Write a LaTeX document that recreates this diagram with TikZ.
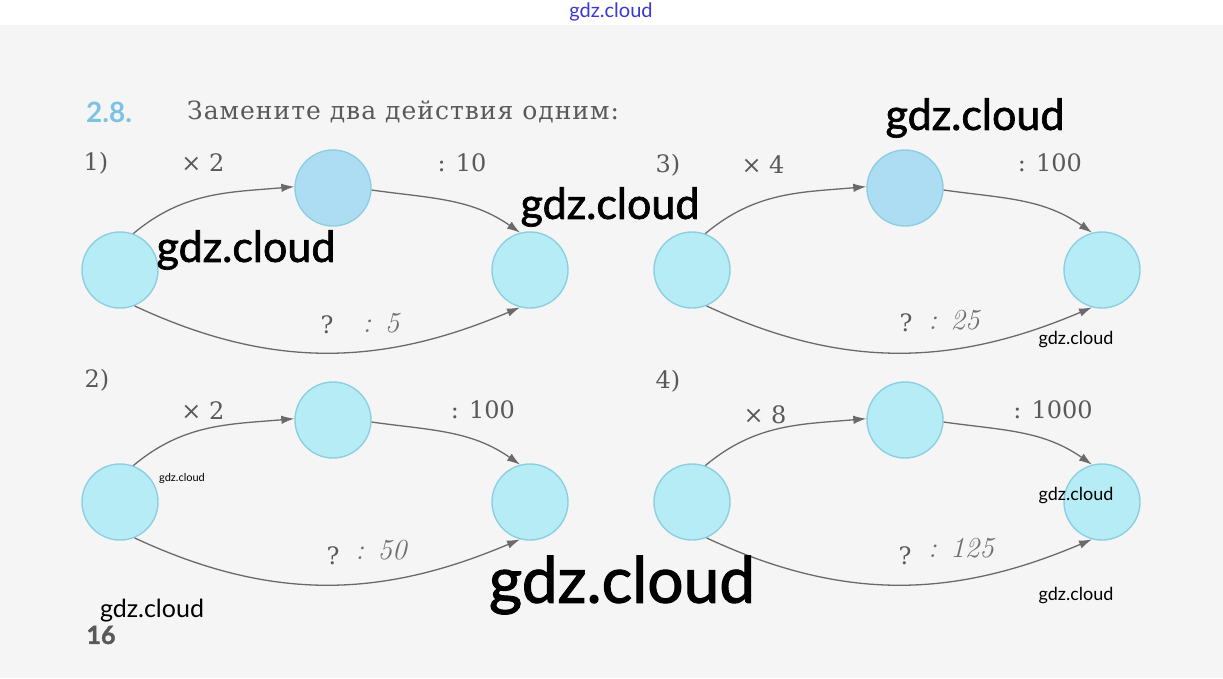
\documentclass[tikz,border=0pt]{standalone}
\usepackage{fontspec}
\usetikzlibrary{arrows.meta}
\newfontfamily\rufont[LetterSpace=4]{DejaVu Serif}
\newfontfamily\labfont{DejaVu Serif}
\newfontfamily\wmfont{Lato}
\newfontfamily\wmheavy[FakeBold=1.6]{Lato}
\definecolor{bggray}{HTML}{F5F5F5}
\definecolor{txtgray}{HTML}{595959}
\definecolor{handgray}{HTML}{707070}
\definecolor{arrowgray}{HTML}{6A6A6A}
\definecolor{ballfill}{HTML}{B6ECF5}
\definecolor{balltop}{HTML}{ADDDF2}
\definecolor{ballrim}{HTML}{8DCFE2}
\definecolor{titleblue}{HTML}{7CC3E3}
\definecolor{headblue}{HTML}{3A3AD0}
\newcommand{\opsarrowstyle}{-{Latex[length=13pt,width=8.5pt]}}

\begin{document}
\begin{tikzpicture}[
    x=1pt, y=-1pt,
    every node/.style={inner sep=0pt},
    numtext/.style={text=txtgray, font=\labfont\fontsize{24}{26}\selectfont},
    handtext/.style={text=handgray, font=\fontsize{29}{31}\selectfont\itshape},
    ballnode/.style={circle, minimum size=76pt, fill=ballfill, draw=ballrim, line width=1.4pt},
    topball/.style={ballnode, fill=balltop},
    opline/.style={\opsarrowstyle, line width=1.3pt, draw=arrowgray},
    wmark/.style={text=black}
]
  \useasboundingbox (0,0) rectangle (1223,678);
  \fill[white] (0,0) rectangle (1223,25);
  \fill[bggray] (0,25) rectangle (1223,678);

  \node[text=headblue, font=\wmfont\fontsize{20}{22}\selectfont] (headmark) at (611,12) {gdz.cloud};

  \node[text=titleblue, font=\wmfont\bfseries\fontsize{28}{30}\selectfont] (tasknum) at (109,112) {2.8.};
  \node[anchor=west, text=txtgray, font=\rufont\fontsize{25}{28}\selectfont] (tasktitle) at (187,112) {Замените два действия одним:};

  % circles and arrows of the four exercises
  \foreach \p/\dx/\dy/\topstyle in {1/0/0/topball, 3/572/0/topball, 2/0/232/ballnode, 4/572/232/ballnode} {
    \node[ballnode] (left-\p) at ({120+\dx},{270+\dy}) {};
    \node[\topstyle] (mid-\p) at ({333+\dx},{188+\dy}) {};
    \node[ballnode] (right-\p) at ({530+\dx},{270+\dy}) {};

    \draw[opline] (left-\p.70) to[out=40,in=185] (mid-\p.178);
    \draw[opline] (mid-\p.-3) to[out=-8,in=145] (right-\p.105);
    \draw[opline] (left-\p.-68) to[out=-25,in=-157] (right-\p.-105);
  }

  % 1)
  \node[numtext] (num-1) at (96,163) {1)};
  \node[numtext] (mul-1) at (203,163) {× 2};
  \node[numtext] (div-1) at (462,163) {: 10};
  \node[numtext] (ask-1) at (327,325) {?};
  \node[handtext] (res-1) at (381,323) {: 5};

  % 3)
  \node[numtext] (num-3) at (668,165) {3)};
  \node[numtext] (mul-3) at (763,165) {× 4};
  \node[numtext] (div-3) at (1050,163) {: 100};
  \node[numtext] (ask-3) at (906,323) {?};
  \node[handtext] (res-3) at (954,320) {: 25};

  % 2)
  \node[numtext] (num-2) at (97,380) {2)};
  \node[numtext] (mul-2) at (203,411) {× 2};
  \node[numtext] (div-2) at (483,410) {: 100};
  \node[numtext] (ask-2) at (333,556) {?};
  \node[handtext] (res-2) at (381,550) {: 50};

  % 4)
  \node[numtext] (num-4) at (668,381) {4)};
  \node[numtext] (mul-4) at (765,415) {× 8};
  \node[numtext] (div-4) at (1053,410) {: 1000};
  \node[numtext] (ask-4) at (905,556) {?};
  \node[handtext] (res-4) at (961,548) {: 125};

  \node[text=txtgray, font=\wmheavy\bfseries\fontsize{25}{28}\selectfont] (pagenum) at (101,635) {16};

  % watermarks
  \node[wmark, font=\wmheavy\fontsize{43}{50}\selectfont] (wm-1) at (975,118) {gdz.cloud};
  \node[wmark, font=\wmheavy\fontsize{43}{50}\selectfont] (wm-2) at (246,250) {gdz.cloud};
  \node[wmark, font=\wmheavy\fontsize{43}{50}\selectfont] (wm-3) at (610,207) {gdz.cloud};
  \node[wmark, font=\wmfont\fontsize{18}{21}\selectfont] (wm-4) at (1076,340) {gdz.cloud};
  \node[wmark, font=\wmfont\fontsize{11}{13}\selectfont] (wm-5) at (182,478) {gdz.cloud};
  \node[wmark, font=\wmheavy\fontsize{64}{72}\selectfont] (wm-6) at (622,585) {gdz.cloud};
  \node[wmark, font=\wmfont\fontsize{25}{30}\selectfont] (wm-7) at (152,611) {gdz.cloud};
  \node[wmark, font=\wmfont\fontsize{18}{21}\selectfont] (wm-8) at (1076,496) {gdz.cloud};
  \node[wmark, font=\wmfont\fontsize{18}{21}\selectfont] (wm-9) at (1076,596) {gdz.cloud};
\end{tikzpicture}
\end{document}
